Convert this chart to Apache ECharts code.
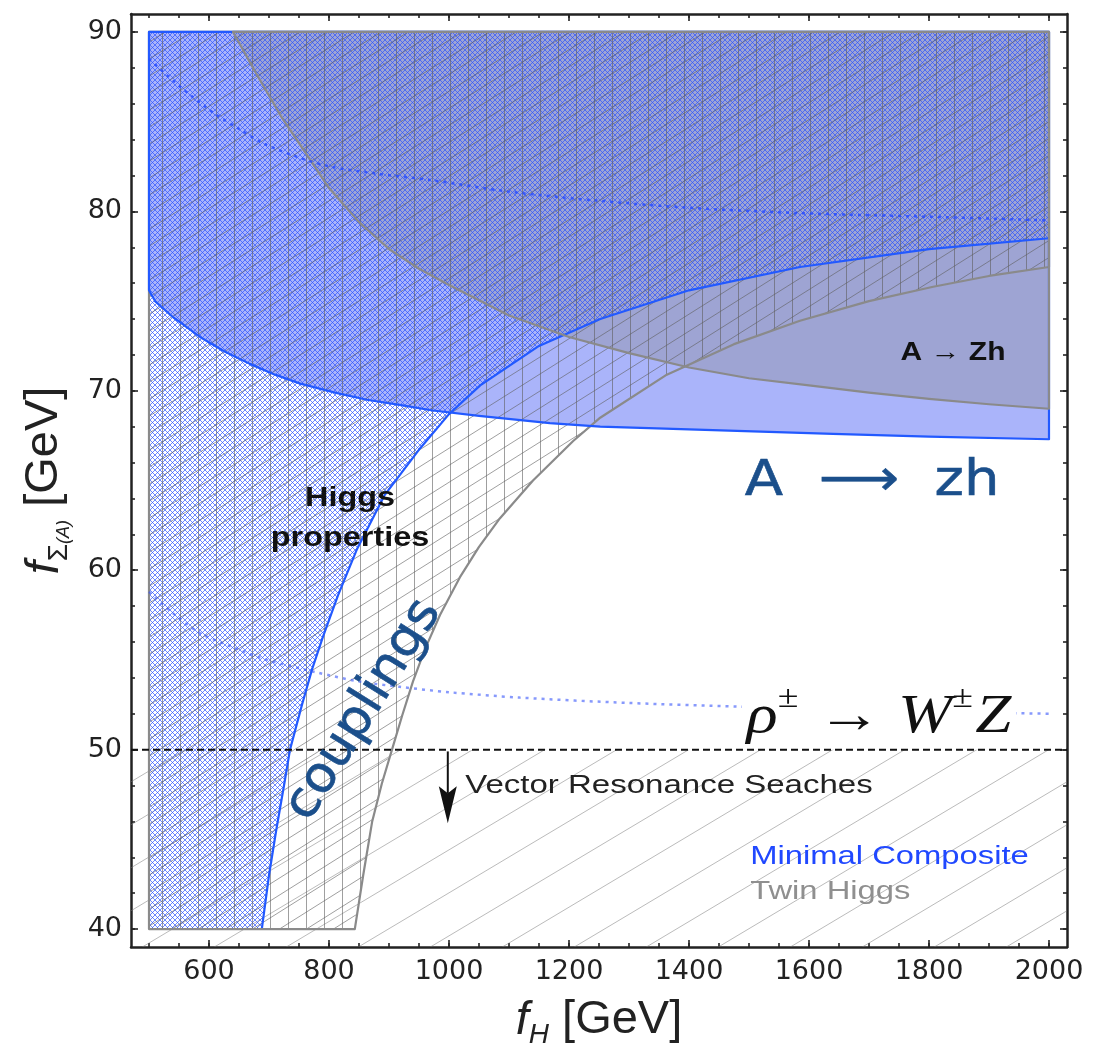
<!DOCTYPE html>
<html><head><meta charset="utf-8">
<script src="https://cdn.jsdelivr.net/npm/echarts@6/dist/echarts.min.js"></script>
<style>html,body{margin:0;padding:0;background:#fff}#c{width:1103px;height:1046px}</style>
</head><body><div id="c"></div>
<script>
// ---------------- data ----------------
const xMajorTicks = [600, 800, 1000, 1200, 1400, 1600, 1800, 2000];
const xTickLabels = ['600', '800', '1000', '1200', '1400', '1600', '1800', '2000'];
const xMinorTicks = [500, 550, 600, 650, 700, 750, 800, 850, 900, 950, 1000, 1050, 1100, 1150, 1200, 1250, 1300, 1350, 1400, 1450, 1500, 1550, 1600, 1650, 1700, 1750, 1800, 1850, 1900, 1950, 2000];
const yMajorTicks = [40, 50, 60, 70, 80, 90];
const yTickLabels = ['40', '50', '60', '70', '80', '90'];
const yMinorTicks = [40, 42, 44, 46, 48, 50, 52, 54, 56, 58, 60, 62, 64, 66, 68, 70, 72, 74, 76, 78, 80, 82, 84, 86, 88, 90];

// Minimal Composite: Higgs-coupling bound (region to the left / above is excluded)
const mcHiggsCurve = [[688, 40], [700, 43], [712, 45.5], [725, 48], [735, 50], [755, 52.5], [772, 54.5], [790, 56.3], [815, 58.6], [847, 61.2], [893, 64.2], [952, 66.8], [1000, 68.7], [1052, 70.3], [1150, 72.5], [1252, 74.0], [1400, 75.6], [1585, 76.9], [1800, 77.9], [2000, 78.5]];
// Twin Higgs: Higgs-coupling bound
const thHiggsCurve = [[843, 40], [857, 43], [872, 46], [888, 48.1], [905, 50], [922, 51.9], [940, 53.8], [960, 55.6], [985, 57.5], [1018, 59.6], [1050, 61.3], [1085, 62.9], [1140, 65.0], [1207, 67.2], [1252, 68.5], [1363, 70.9], [1475, 72.6], [1585, 73.9], [1700, 75.0], [1807, 75.8], [1900, 76.4], [2000, 76.9]];
// Minimal Composite: A -> Zh bound (region above is excluded)
const mcAZhCurve = [[500, 75.6], [510, 75.0], [540, 74.1], [585, 73.0], [625, 72.2], [668, 71.5], [710, 70.9], [752, 70.4], [810, 69.9], [863, 69.5], [920, 69.2], [973, 68.9], [1050, 68.6], [1168, 68.2], [1252, 68.0], [1400, 67.85], [1640, 67.6], [1800, 67.45], [2000, 67.3]];
// Twin Higgs: A -> Zh bound
const thAZhCurve = [[640, 90], [680, 87.6], [720, 85.3], [760, 83.3], [800, 81.3], [850, 79.4], [900, 77.9], [950, 76.8], [1000, 75.9], [1100, 74.2], [1200, 73.0], [1300, 72.1], [1400, 71.3], [1500, 70.7], [1600, 70.3], [1700, 69.9], [1800, 69.55], [1900, 69.25], [2000, 69.0]];
// dotted rho -> WZ contours
const rhoUpperCurve = [[500, 88.5], [550, 87.0], [607, 85.5], [650, 84.6], [690, 83.8], [750, 83.0], [802, 82.5], [880, 82.1], [968, 81.75], [1100, 81.1], [1247, 80.6], [1400, 80.2], [1585, 79.9], [1800, 79.7], [2000, 79.5]];
const rhoLowerCurve = [[500, 58.8], [540, 57.6], [585, 56.5], [640, 55.7], [697, 55.0], [780, 54.3], [850, 53.8], [918, 53.5], [1000, 53.2], [1118, 52.9], [1300, 52.6], [1483, 52.4], [1750, 52.15], [2000, 52.0]];
// vector resonance search bound
const vectorBound = 50;
const vectorArrow = [998, 49.9, 45.9];

// plot range of the regions / frame range
const plotX = [500, 2000];
const plotY = [40, 90];
const frameX = [470, 2030];
const frameY = [39, 91];

// text annotations
const labelTexts = ['A \u2192 Zh', 'Higgs\nproperties', 'Vector Resonance Seaches', 'Minimal Composite', 'Twin Higgs', 'ρ± → W±Z', 'A  \u27F6  zh', 'couplings'];
const labelPos = [[1840, 72.1], [835, 62.9], [1027, 48.0], [1502, 44.0], [1502, 42.05], [1488, 52.1], [1493, 64.9], [858, 52.2]];

// ---------------- region polygons ----------------
const mcHiggsPoly = [[plotX[0], plotY[0]], ...mcHiggsCurve, [plotX[1], plotY[1]], [plotX[0], plotY[1]]];
const thHiggsPoly = [[plotX[0], plotY[0]], ...thHiggsCurve, [plotX[1], plotY[1]], [plotX[0], plotY[1]]];
const mcAZhPoly = [[plotX[0], plotY[1]], ...mcAZhCurve, [plotX[1], plotY[1]]];
const thAZhPoly = [...thAZhCurve, [plotX[1], plotY[1]]];
const vectorPoly = [[frameX[0], frameY[0]], [frameX[1], frameY[0]], [frameX[1], vectorBound], [frameX[0], vectorBound]];

// ---------------- hatch patterns ----------------
function tile(w, h, fn) {
  const c = document.createElement('canvas'); c.width = w; c.height = h;
  const g = c.getContext('2d'); fn(g, w, h);
  return { image: c, repeat: 'repeat' };
}
const mcHatch = tile(5, 5, (g, w, h) => {
  g.strokeStyle = 'rgba(40,80,255,0.68)'; g.lineWidth = 1; g.beginPath();
  for (let k = -1; k <= 1; k++) {
    g.moveTo(k * w - 1, h + 1); g.lineTo(k * w + w + 1, -1);
    g.moveTo(k * w - 1, -1); g.lineTo(k * w + w + 1, h + 1);
  }
  g.stroke();
});
const thHatch = tile(54, 34, (g, w, h) => {
  g.strokeStyle = 'rgba(95,95,95,0.6)'; g.lineWidth = 1; g.beginPath();
  [0.5, 18.5, 36.5].forEach(x => { g.moveTo(x, 0); g.lineTo(x, h); });
  [0, 17, 34, 51, 68].forEach(c => { g.moveTo(-1, c + h / w); g.lineTo(w + 1, c - h - h / w); });
  g.stroke();
});
const vecHatch = tile(72, 43, (g, w, h) => {
  g.strokeStyle = 'rgba(120,120,120,0.5)'; g.lineWidth = 1; g.beginPath();
  [0, 43, 86].forEach(c => { g.moveTo(-1, c + h / w); g.lineTo(w + 1, c - h - h / w); });
  g.stroke();
});

const BLUE = '#2259ff', GRAY = '#8a8a8a';
const fillLayers = [
  { poly: vectorPoly, fill: vecHatch },
  { poly: mcAZhPoly, fill: 'rgba(85,105,245,0.5)' },
  { poly: thAZhPoly, fill: 'rgba(133,133,133,0.33)' },
  { poly: mcHiggsPoly, fill: mcHatch },
  { poly: thHiggsPoly, fill: thHatch }
];
const strokeLayers = [
  { poly: mcHiggsCurve, stroke: BLUE, closed: false },
  { poly: thHiggsPoly, stroke: GRAY, closed: true },
  { poly: mcAZhPoly, stroke: BLUE, closed: true },
  { poly: thAZhPoly, stroke: GRAY, closed: true }
];

const HW = '#1b4f8b';
const labelStyles = [
  { fontFamily: 'Liberation Sans', fontWeight: 'bold', fontSize: 25, fill: '#111', align: 'center', sx: 1.2 },
  { fontFamily: 'Liberation Sans', fontWeight: 'bold', fontSize: 27, fill: '#111', align: 'center', sx: 1.2, lh: 40 },
  { fontFamily: 'Liberation Sans', fontSize: 26, fill: '#222', align: 'left', sx: 1.27 },
  { fontFamily: 'Liberation Sans', fontSize: 26, fill: '#2048ff', align: 'left', sx: 1.26 },
  { fontFamily: 'Liberation Sans', fontSize: 26, fill: '#8f8f8f', align: 'left', sx: 1.26 },
  { rich: true, align: 'left', sx: 1.18 },
  { fontFamily: 'DejaVu Sans', fontSize: 50, fill: HW, align: 'left', sx: 1.12, stroke: HW, lw: 0.6 },
  { fontFamily: 'DejaVu Sans', fontSize: 50, fill: HW, align: 'center', sx: 1.05, rot: 58, stroke: HW, lw: 0.6 }
];

function pts(api, poly) { return poly.map(p => api.coord(p)); }

const axisColor = '#222';
function xAxisDef(pos, major, withLabels) {
  return {
    type: 'value', min: frameX[0], max: frameX[1], position: pos,
    axisLine: { show: major, onZero: false, lineStyle: { color: axisColor, width: 2.5 } },
    axisTick: { inside: true, length: major ? 7 : 4, customValues: major ? xMajorTicks : xMinorTicks, lineStyle: { color: axisColor, width: 1.6 } },
    axisLabel: withLabels ? { show: true, customValues: xMajorTicks, formatter: v => xTickLabels[xMajorTicks.indexOf(v)], fontFamily: 'DejaVu Sans', fontSize: 27, color: '#222', margin: 11 } : { show: false },
    splitLine: { show: false }
  };
}
function yAxisDef(pos, major, withLabels) {
  return {
    type: 'value', min: frameY[0], max: frameY[1], position: pos,
    axisLine: { show: major, onZero: false, lineStyle: { color: axisColor, width: 2.5 } },
    axisTick: { inside: true, length: major ? 7 : 4, customValues: major ? yMajorTicks : yMinorTicks, lineStyle: { color: axisColor, width: 1.6 } },
    axisLabel: withLabels ? { show: true, customValues: yMajorTicks, formatter: v => yTickLabels[yMajorTicks.indexOf(v)], fontFamily: 'DejaVu Sans', fontSize: 27, color: '#222', margin: 9 } : { show: false },
    splitLine: { show: false }
  };
}
const xAxes = [xAxisDef('bottom', true, true), xAxisDef('bottom', false, false), xAxisDef('top', true, false), xAxisDef('top', false, false)];
const yAxes = [yAxisDef('left', true, true), yAxisDef('left', false, false), yAxisDef('right', true, false), yAxisDef('right', false, false)];

Object.assign(xAxes[0], {
  name: '{i|f}{s|H}{n| [GeV]}', nameLocation: 'middle', nameGap: 50,
  nameTextStyle: { rich: {
    i: { fontFamily: 'Liberation Sans', fontStyle: 'italic', fontSize: 47, color: '#222', verticalAlign: 'top' },
    s: { fontFamily: 'Liberation Sans', fontStyle: 'italic', fontSize: 28, color: '#222', verticalAlign: 'top', padding: [24, 0, 0, 0] },
    n: { fontFamily: 'Liberation Sans', fontSize: 47, color: '#222', verticalAlign: 'top' }
  } }
});
Object.assign(yAxes[0], {
  name: '{i|f}{s|Σ}{t|(A)}{n| [GeV]}', nameLocation: 'middle', nameGap: 58, nameRotate: 90,
  nameTextStyle: { rich: {
    i: { fontFamily: 'Liberation Sans', fontStyle: 'italic', fontSize: 47, color: '#222', verticalAlign: 'top' },
    s: { fontFamily: 'Liberation Sans', fontSize: 28, color: '#222', verticalAlign: 'top', padding: [24, 0, 0, 0] },
    t: { fontFamily: 'Liberation Sans', fontStyle: 'italic', fontSize: 18, color: '#222', verticalAlign: 'top', padding: [34, 0, 0, 0] },
    n: { fontFamily: 'Liberation Sans', fontSize: 47, color: '#222', verticalAlign: 'top' }
  } }
});

const option = {
  animation: false,
  backgroundColor: '#fff',
  grid: { left: 131, right: 36, top: 14, bottom: 99, outerBoundsMode: 'none' },
  xAxis: xAxes,
  yAxis: yAxes,
  series: [
    { type: 'custom', name: 'regions', coordinateSystem: 'cartesian2d', z: 1, clip: true,
      data: fillLayers.map((l, i) => [plotX[0], plotY[0], i]), encode: { x: 0, y: 1 },
      renderItem: (params, api) => {
        const l = fillLayers[api.value(2)];
        return { type: 'polygon', shape: { points: pts(api, l.poly) }, style: { fill: l.fill, stroke: null } };
      } },
    { type: 'custom', name: 'boundaries', coordinateSystem: 'cartesian2d', z: 3, clip: true,
      data: strokeLayers.map((l, i) => [plotX[0], plotY[0], i]), encode: { x: 0, y: 1 },
      renderItem: (params, api) => {
        const l = strokeLayers[api.value(2)];
        return { type: l.closed ? 'polygon' : 'polyline', shape: { points: pts(api, l.poly) },
          style: { fill: null, stroke: l.stroke, lineWidth: 2.2, lineJoin: 'round' } };
      } },
    { type: 'line', name: 'rho upper', data: rhoUpperCurve, showSymbol: false, smooth: 0.3, z: 4,
      lineStyle: { color: 'rgba(40,75,255,0.85)', width: 2.5, type: [3, 5] } },
    { type: 'line', name: 'rho lower', data: rhoLowerCurve, showSymbol: false, smooth: 0.3, z: 4,
      lineStyle: { color: 'rgba(55,85,250,0.6)', width: 2.5, type: [3, 5] } },
    { type: 'line', name: 'vector bound', data: [[frameX[0], vectorBound], [frameX[1], vectorBound]], showSymbol: false, z: 4,
      lineStyle: { color: '#111', width: 2, type: [7, 4] } },
    { type: 'custom', name: 'arrow', coordinateSystem: 'cartesian2d', z: 5,
      data: [vectorArrow], encode: { x: 0, y: 1 },
      renderItem: (params, api) => {
        const a = api.coord([api.value(0), api.value(1)]);
        const b = api.coord([api.value(0), api.value(2)]);
        return { type: 'group', children: [
          { type: 'line', shape: { x1: a[0], y1: a[1], x2: b[0], y2: b[1] - 30 }, style: { stroke: '#111', lineWidth: 2 } },
          { type: 'polygon', shape: { points: [[b[0], b[1]], [b[0] - 9, b[1] - 37], [b[0], b[1] - 30], [b[0] + 9, b[1] - 37]] }, style: { fill: '#111' } }
        ] };
      } },
    { type: 'custom', name: 'labels', coordinateSystem: 'cartesian2d', z: 6, clip: false,
      data: labelPos.map((p, i) => [p[0], p[1], i]), encode: { x: 0, y: 1 },
      renderItem: (params, api) => {
        const i = api.value(2);
        const s = labelStyles[i];
        const p = api.coord([api.value(0), api.value(1)]);
        let style;
        if (s.rich) {
          const t = labelTexts[i];
          style = {
            text: '{a|' + t[0] + '}{s|' + t[1] + '}{b| ' + t[3] + ' }{a|' + t[5] + '}{s|' + t[6] + '}{a|' + t[7] + '}',
            align: 'left', verticalAlign: 'middle', backgroundColor: '#fff', padding: [0, 4, 0, 4],
            rich: {
              a: { fontFamily: 'Liberation Serif', fontStyle: 'italic', fontSize: 55, fill: '#111', verticalAlign: 'top', padding: [12, 0, 0, 0] },
              s: { fontFamily: 'Liberation Serif', fontSize: 32, fill: '#111', verticalAlign: 'top', padding: [4, 2, 0, 0] },
              b: { fontFamily: 'Liberation Serif', fontSize: 55, fill: '#111', verticalAlign: 'top', padding: [12, 0, 0, 0] }
            }
          };
        } else {
          style = { text: labelTexts[i], fontFamily: s.fontFamily, fontSize: s.fontSize, fontWeight: s.fontWeight || 'normal',
            fill: s.fill, align: s.align, verticalAlign: 'middle', lineHeight: s.lh || s.fontSize * 1.2 };
          if (s.stroke) { style.stroke = s.stroke; style.lineWidth = s.lw; }
        }
        return { type: 'text', x: p[0], y: p[1], rotation: (s.rot || 0) * Math.PI / 180, scaleX: s.sx || 1, style };
      } }
  ]
};
const chart = echarts.init(document.getElementById('c'), null, { renderer: 'canvas' });
chart.setOption(option);
</script></body></html>
